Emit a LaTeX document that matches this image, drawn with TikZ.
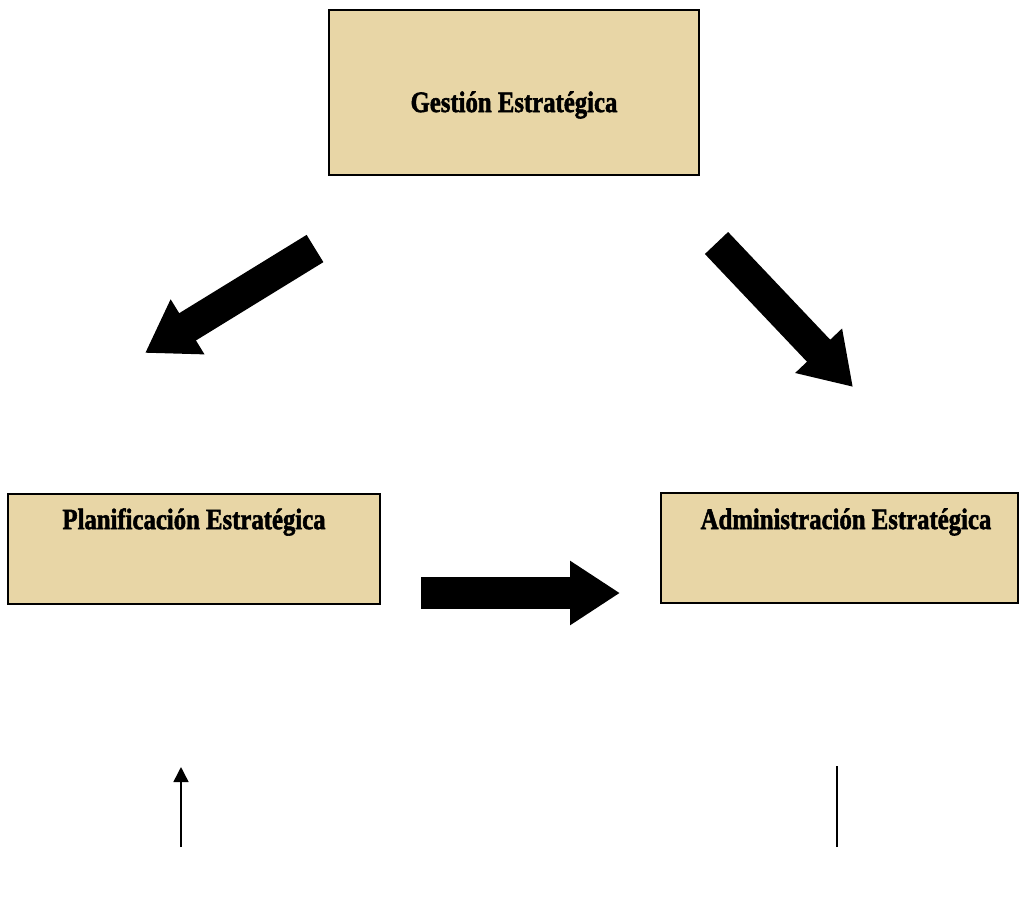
\documentclass[tikz,border=0pt]{standalone}
\usepackage{fontspec}
\setmainfont{Liberation Serif}
\newfontfamily\boxfont{Liberation Serif}[BoldFeatures={FakeBold=2}]
\usepackage{tikz}
\usetikzlibrary{arrows.meta}
\definecolor{papyrus}{RGB}{232,214,166}
\newcommand{\boxtext}[1]{\scalebox{0.88}[1.05]{\fontsize{16}{18}\boxfont\bfseries #1}}

\begin{document}
\begin{tikzpicture}[x=0.02cm, y=-0.02cm]
\tikzstyle{papbox}=[rectangle, draw, line width=1.2pt, fill=papyrus, inner sep=0pt]
\tikzstyle{boxlabel}=[inner sep=0pt]
\tikzstyle{bigarrow}=[line width=0.64cm, -{Triangle[length=1cm, width=1.22cm]}]
\tikzstyle{thinarrow}=[line width=0.85pt, -{Triangle[length=0.3cm, width=0.3cm]}]

\useasboundingbox (0,0) rectangle (1019,897);

\node[papbox, minimum width=7.4cm, minimum height=3.3cm] (gest) at (514,92.5) {};
\node[papbox, minimum width=7.44cm, minimum height=2.2cm] (plan) at (194,549) {};
\node[papbox, minimum width=7.14cm, minimum height=2.2cm] (adm) at (839.5,548) {};

\node[boxlabel] (gesttxt) at (514,105) {\boxtext{Gestión Estratégica}};
\node[boxlabel] (plantxt) at (194,522) {\boxtext{Planificación Estratégica}};
\node[boxlabel] (admtxt) at (846,522) {\boxtext{Administración Estratégica}};

\coordinate (gl) at (315,248.5);
\coordinate (pl) at (145,353);
\coordinate (gr) at (716.5,243);
\coordinate (ar) at (853,387);
\coordinate (ps) at (421,593);
\coordinate (as) at (620,593);
\coordinate (pb) at (181,847);
\coordinate (pt) at (181,767);
\coordinate (ab) at (837,847);
\coordinate (at) at (837,766);

\path[fill=none]
(gl) edge[bigarrow] (pl)
(gr) edge[bigarrow] (ar)
(ps) edge[bigarrow] (as);

\draw[thinarrow] (pb) -- (pt);
\draw[line width=0.85pt] (ab) -- (at);

\end{tikzpicture}
\end{document}
